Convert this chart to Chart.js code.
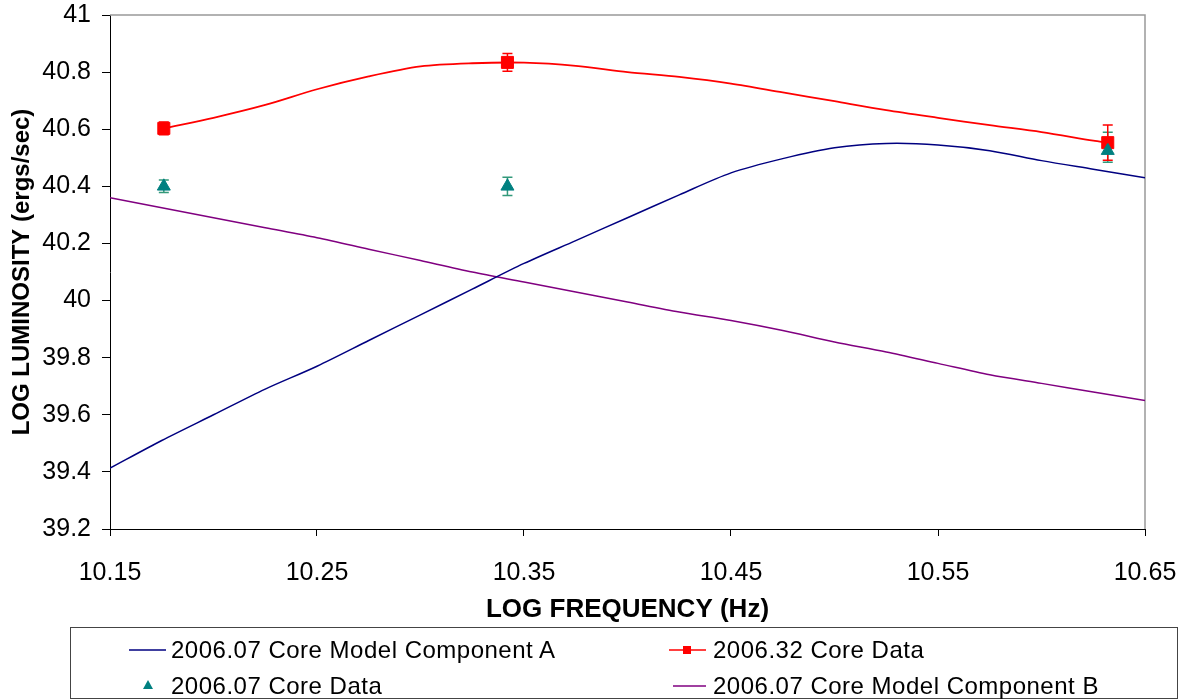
<!DOCTYPE html>
<html>
<head>
<meta charset="utf-8">
<title>Core luminosity vs frequency</title>
<script src="https://cdn.jsdelivr.net/npm/chart.js@4.4.0/dist/chart.umd.min.js"></script>
<style>
  body { margin: 0; background: #fff; font-family: "Liberation Sans", Arial, sans-serif; }
  #wrap { position: relative; width: 1180px; height: 700px; }
  #legend { position: absolute; left: 70px; top: 627px; width: 1108px; height: 72px;
            border: 1px solid #444; box-sizing: border-box; }
  #legend span { position: absolute; font-size: 24px; line-height: 28px; color: #000;
                 white-space: nowrap; letter-spacing: 0.5px; }
  #legend svg { position: absolute; overflow: visible; }
</style>
</head>
<body>
<div id="wrap">
  <canvas id="sedChart" width="1180" height="700"></canvas>
  <div id="legend">
    <svg style="left:56px;top:12px" width="42" height="20"><line x1="2" y1="10" x2="39" y2="10" stroke="#000080" stroke-width="1.5"/></svg>
    <span style="left:100px;top:8px">2006.07 Core Model Component A</span>
    <svg style="left:596px;top:12px" width="42" height="20"><line x1="2" y1="10" x2="39" y2="10" stroke="#ff0000" stroke-width="1.5"/><rect x="16" y="6" width="8" height="8" fill="#ff0000"/></svg>
    <span style="left:642px;top:8px">2006.32 Core Data</span>
    <svg style="left:67px;top:48px" width="20" height="20"><polygon points="10,4 15,13 5,13" fill="#008080"/></svg>
    <span style="left:100px;top:44px">2006.07 Core Data</span>
    <svg style="left:600px;top:48px" width="42" height="20"><line x1="2" y1="10" x2="35" y2="10" stroke="#800080" stroke-width="1.5"/></svg>
    <span style="left:642px;top:44px">2006.07 Core Model Component B</span>
  </div>
</div>
<script>
// model curves
const modelX = [10.15, 10.175, 10.2, 10.225, 10.25, 10.275, 10.3, 10.325, 10.35, 10.375, 10.4,
                10.425, 10.45, 10.475, 10.5, 10.525, 10.55, 10.575, 10.6, 10.625, 10.65];
const componentA = [39.413, 39.51, 39.60, 39.69, 39.77, 39.86, 39.95, 40.04, 40.13, 40.21, 40.29,
                    40.37, 40.447, 40.497, 40.535, 40.55, 40.545, 40.525, 40.49, 40.46, 40.43];
const componentB = [40.36, 40.325, 40.29, 40.255, 40.22, 40.18, 40.14, 40.10, 40.065, 40.03, 39.995,
                    39.96, 39.93, 39.895, 39.855, 39.82, 39.78, 39.74, 39.71, 39.68, 39.65];
const fitX = [10.176, 10.2, 10.225, 10.25, 10.275, 10.3, 10.325, 10.35, 10.375, 10.4,
              10.425, 10.45, 10.475, 10.5, 10.525, 10.55, 10.575, 10.6, 10.625, 10.632];
const fit2006_32 = [40.603, 40.64, 40.685, 40.74, 40.785, 40.82, 40.831, 40.833, 40.822, 40.80,
                    40.783, 40.76, 40.729, 40.698, 40.667, 40.64, 40.614, 40.59, 40.56, 40.553];

// measured points with error bars (upper / lower)
const dataX = [10.176, 10.342, 10.632];
const core2006_32 = [40.603, 40.834, 40.553];
const core2006_32ErrUp = [0.022, 0.031, 0.062];
const core2006_32ErrDown = [0.022, 0.031, 0.062];
const core2006_07 = [40.40, 40.40, 40.525];
const core2006_07ErrUp = [0.022, 0.032, 0.064];
const core2006_07ErrDown = [0.022, 0.032, 0.041];

const xTicks = [10.15, 10.25, 10.35, 10.45, 10.55, 10.65];

const FONT = '"Liberation Sans", Arial, sans-serif';
const pts = (xs, ys) => xs.map((x, i) => ({ x: x, y: ys[i] }));

const errorBars = {
  id: 'errorBars',
  beforeDatasetsDraw(chart) {
    const { ctx, scales: { x, y } } = chart;
    ctx.save();
    ctx.lineWidth = 1.5;
    chart.data.datasets.forEach(ds => {
      if (!ds.errUp) return;
      ctx.strokeStyle = ds.errorColor;
      ds.data.forEach((p, j) => {
        const px = x.getPixelForValue(p.x);
        const top = y.getPixelForValue(p.y + ds.errUp[j]);
        const bot = y.getPixelForValue(p.y - ds.errDown[j]);
        ctx.beginPath();
        ctx.moveTo(px, top); ctx.lineTo(px, bot);
        ctx.moveTo(px - 5, top); ctx.lineTo(px + 5, top);
        ctx.moveTo(px - 5, bot); ctx.lineTo(px + 5, bot);
        ctx.stroke();
      });
    });
    ctx.restore();
  }
};

const plotFrame = {
  id: 'plotFrame',
  beforeDatasetsDraw(chart) {
    const { ctx, chartArea: a } = chart;
    ctx.save();
    ctx.strokeStyle = '#999';
    ctx.lineWidth = 1.5;
    ctx.beginPath();
    ctx.moveTo(a.left, a.top);
    ctx.lineTo(a.right, a.top);
    ctx.lineTo(a.right, a.bottom);
    ctx.stroke();
    ctx.restore();
  }
};

new Chart(document.getElementById('sedChart'), {
  type: 'scatter',
  data: {
    datasets: [
      { label: '2006.07 Core Model Component A', data: pts(modelX, componentA), showLine: true,
        borderColor: '#000080', borderWidth: 1.5, pointRadius: 0, tension: 0.3 },
      { label: '2006.07 Core Model Component B', data: pts(modelX, componentB), showLine: true,
        borderColor: '#800080', borderWidth: 1.5, pointRadius: 0, tension: 0.3 },
      { label: '2006.32 Core Model', data: pts(fitX, fit2006_32), showLine: true,
        borderColor: '#ff0000', borderWidth: 1.8, pointRadius: 0, tension: 0.3 },
      { label: '2006.07 Core Data', data: pts(dataX, core2006_07),
        errUp: core2006_07ErrUp, errDown: core2006_07ErrDown,
        errorColor: '#33997a', pointStyle: 'triangle', pointRadius: 7.5,
        backgroundColor: '#008080', borderColor: '#008080', borderWidth: 1 },
      { label: '2006.32 Core Data', data: pts(dataX, core2006_32),
        errUp: core2006_32ErrUp, errDown: core2006_32ErrDown,
        errorColor: '#ff0000', pointStyle: 'rect', pointRadius: 8.5,
        backgroundColor: '#ff0000', borderColor: '#ff0000', borderWidth: 1 }
    ]
  },
  options: {
    responsive: false,
    animation: false,
    layout: { autoPadding: false, padding: { left: 0, right: 35, top: 15, bottom: 75 } },
    plugins: {
      legend: { display: false },
      tooltip: { enabled: false }
    },
    scales: {
      x: {
        type: 'linear',
        min: 10.15,
        max: 10.65,
        afterBuildTicks: s => { s.ticks = xTicks.map(v => ({ value: v })); },
        afterFit: s => { s.height = 96; s.paddingLeft = 0; s.paddingRight = 0; },
        ticks: { callback: v => v.toFixed(2), color: '#000', padding: 22, maxRotation: 0,
                 autoSkip: false, font: { size: 25, family: FONT } },
        grid: { drawOnChartArea: false, tickLength: 7, color: '#000' },
        border: { color: '#000', width: 1 },
        title: { display: true, text: 'LOG FREQUENCY (Hz)', color: '#000', padding: 0,
                 font: { size: 26, weight: 'bold', family: FONT } }
      },
      y: {
        min: 39.2,
        max: 41,
        afterFit: s => { s.width = 110; s.paddingTop = 0; s.paddingBottom = 0; },
        ticks: { stepSize: 0.2, callback: v => String(+v.toFixed(1)), color: '#000', padding: 11,
                 font: { size: 25, family: FONT } },
        grid: { drawOnChartArea: false, tickLength: 8, color: '#000' },
        border: { color: '#000', width: 1 },
        title: { display: true, text: 'LOG LUMINOSITY (ergs/sec)', color: '#000',
                 padding: { top: 8, bottom: 0 }, font: { size: 24, weight: 'bold', family: FONT } }
      }
    }
  },
  plugins: [plotFrame, errorBars]
});
</script>
</body>
</html>
